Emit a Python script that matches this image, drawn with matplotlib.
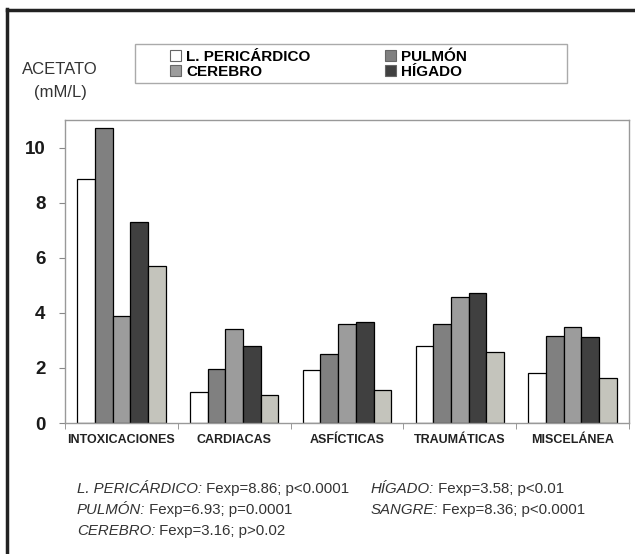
import numpy as np
import matplotlib.pyplot as plt
from matplotlib.patches import Patch, Rectangle
from matplotlib.lines import Line2D

plt.rcParams['font.family'] = ['Liberation Sans', 'DejaVu Sans']

categorias = ["INTOXICACIONES", "CARDIACAS", "ASFÍCTICAS", "TRAUMÁTICAS", "MISCELÁNEA"]

# Acetato (mM/L) por tejido y causa de muerte
pericardico = [8.87, 1.11, 1.92, 2.78, 1.81]
pulmon = [10.70, 1.97, 2.49, 3.61, 3.17]
cerebro = [3.89, 3.43, 3.61, 4.59, 3.50]
higado = [7.28, 2.79, 3.65, 4.71, 3.13]
sangre = [5.70, 1.01, 1.19, 2.56, 1.64]

series = [pericardico, pulmon, cerebro, higado, sangre]
nombres = ["L. PERICÁRDICO", "PULMÓN", "CEREBRO", "HÍGADO", "SANGRE"]
colores = ["white", "#808080", "#9c9c9c", "#404040", "#c4c4bc"]

# Resultados del ANOVA
estadisticos = [
    ("L. PERICÁRDICO:", " Fexp=8.86; p<0.0001"),
    ("PULMÓN:", " Fexp=6.93; p=0.0001"),
    ("CEREBRO:", " Fexp=3.16; p>0.02"),
    ("HÍGADO:", " Fexp=3.58; p<0.01"),
    ("SANGRE:", " Fexp=8.36; p<0.0001"),
]

W, H = 635, 554
fig = plt.figure(figsize=(W / 100, H / 100), dpi=100)
ax = fig.add_axes([65 / W, 1 - 423 / H, (629 - 65) / W, (423 - 120) / H])

x = np.arange(len(categorias))
ancho = 0.157
for i, (valores, color) in enumerate(zip(series, colores)):
    ax.bar(x + (i - 2) * ancho, valores, ancho, color=color,
           edgecolor="black", linewidth=0.9, zorder=2)

ax.set_xlim(-0.5, len(categorias) - 0.5)
ax.set_ylim(0, 11)
ax.set_yticks([0, 2, 4, 6, 8, 10])
ax.set_yticklabels(["0", "2", "4", "6", "8", "10"], fontsize=13.5, fontweight="bold",
                   color="#1a1a1a")
ax.set_xticks(x)
ax.set_xticklabels(categorias, fontsize=9, fontweight="bold", color="#222222")
ax.set_xticks(np.arange(-0.5, len(categorias)), minor=True)
ax.tick_params(axis="x", which="major", length=0, pad=8)
ax.tick_params(axis="x", which="minor", length=4, color="#888888")
ax.tick_params(axis="y", length=4, color="#888888", pad=10)
for s in ax.spines.values():
    s.set_color("#999999")
    s.set_linewidth(1.0)

# Eje Y
fig.text(60 / W, 1 - 69 / H, "ACETATO", fontsize=12, ha="center", va="center", color="#333333")
fig.text(60 / W, 1 - 92 / H, "(mM/L)", fontsize=12, ha="center", va="center", color="#333333")

# Leyenda (sin sangre)
handles = [Patch(facecolor=colores[i], edgecolor="#666666", linewidth=0.8) for i in [0, 2, 1, 3]]
etiquetas = [nombres[i] for i in [0, 2, 1, 3]]
fig.legend(handles, etiquetas, ncol=2, loc="upper left",
           bbox_to_anchor=(170 / W, 1 - 50 / H), frameon=False,
           prop={"size": 11, "weight": "bold"}, handlelength=0.75, handleheight=0.75,
           handletextpad=0.3, columnspacing=4.85, labelspacing=0.05, borderpad=0,
           borderaxespad=0)
fig.add_artist(Rectangle((135 / W, 1 - 83 / H), (567 - 135) / W, 39 / H,
                         transform=fig.transFigure, fill=False,
                         edgecolor="#aaaaaa", linewidth=1.0))

# Texto de estadísticos
posiciones = [(77, 496), (77, 517), (77, 538), (371, 496), (371, 517)]
for (nombre, resto), (px, py) in zip(estadisticos, posiciones):
    t = fig.text(px / W, 1 - py / H, nombre, fontsize=10.8, style="italic",
                 color="#333333", va="bottom")
    plt.annotate(resto, xy=(1, 0), xycoords=t, fontsize=10.8,
                 color="#333333", va="bottom", ha="left",
                 annotation_clip=False)

# Marco exterior
fig.add_artist(Line2D([7 / W, 7 / W], [0, 1 - 9 / H], transform=fig.transFigure,
                      color="#222222", linewidth=2.5))
fig.add_artist(Line2D([7 / W, 1], [1 - 10 / H, 1 - 10 / H], transform=fig.transFigure,
                      color="#222222", linewidth=2.5))

fig.savefig("out.png", dpi=100, facecolor="white")
